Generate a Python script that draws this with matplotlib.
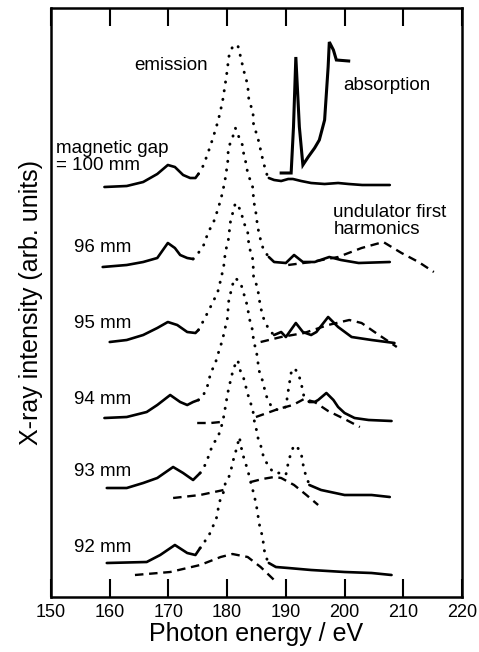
import numpy as np
import matplotlib
matplotlib.use('Agg')
import matplotlib.pyplot as plt

plt.rcParams['font.family'] = ['Liberation Sans', 'DejaVu Sans']

# ---- data (photon energy in eV, intensity in arbitrary stacked units) ----
# magnetic gap = 100 mm
E100 = [159.1, 162.9, 165.7, 168.1, 169.9, 171.1, 172.5, 173.7, 174.6, 175.1,
        176.0, 176.6, 177.2, 178.0, 178.5, 179.2, 179.6, 180.1, 180.2, 180.9, 181.4, 181.8,
        182.3, 182.8, 183.5, 183.7, 184.4, 184.5, 185.2, 185.7, 186.2, 186.9, 187.1,
        188.0, 189.2, 190.4, 191.2, 192.6, 194.3, 196.6, 198.9, 200.7, 203.0, 205.0, 207.7]
I100 = [410, 411, 415, 423, 432, 430, 422, 419, 419, 423,
        432, 442, 452, 467, 477, 495, 510, 530, 539, 550, 552, 552,
        540, 527, 512, 497, 485, 472, 460, 447, 434, 420, 419,
        417, 416, 418, 418, 416, 414, 413, 414, 413, 412, 412, 412]
EMIS100 = (175.1, 187.1)

# absorption spectrum
E_abs = [189.2, 190.9, 191.3, 191.7, 192.3, 192.9, 193.8, 194.9, 195.7, 196.6,
         197.2, 197.4, 198.1, 198.6, 200.7]
I_abs = [424, 424, 470, 540, 470, 432, 440, 449, 457, 477,
         530, 555, 547, 537, 536]

# 96 mm
E96 = [158.8, 162.9, 165.7, 168.1, 169.9, 171.1, 172.0, 173.2, 174.2,
       175.1, 176.0, 176.8, 177.7, 178.5, 179.2, 179.7, 180.1, 180.2, 180.9, 181.4,
       182.0, 182.6, 182.8, 183.2, 183.5, 184.4, 184.5, 184.9, 185.2, 185.7, 186.2, 187.1,
       188.0, 190.0, 191.4, 192.9, 194.9, 197.4, 199.4, 202.4, 207.7]
I96 = [330, 332, 335, 339, 354, 349, 342, 339, 338,
       344, 352, 365, 375, 389, 404, 419, 435, 449, 459, 469,
       460, 452, 444, 434, 424, 409, 397, 384, 370, 357, 347, 340,
       335, 334, 342, 335, 335, 340, 337, 334, 335]
EMIS96 = (174.2, 187.1)
UE96 = [190.4, 194.3, 198.9, 202.9, 206.6, 209.7, 212.6, 215.2]
UI96 = [332, 335, 340, 349, 355, 344, 335, 325]

# 95 mm
E95 = [160.0, 162.9, 165.7, 168.1, 169.9, 171.5, 173.2, 174.6, 175.1,
       175.4, 176.3, 177.5, 178.4, 178.9, 179.4, 179.7, 180.2, 180.6, 181.1, 181.4,
       182.3, 182.8, 183.5, 183.7, 184.0, 184.4, 184.5, 185.2, 185.4, 185.7, 186.1, 186.6,
       187.1, 188.0,
       189.2, 190.0, 191.7, 192.9, 194.3, 195.2, 197.2, 198.9, 201.2, 204.6, 208.5]
I95 = [255, 257, 262, 269, 275, 272, 265, 264, 267,
       270, 280, 294, 305, 317, 330, 345, 357, 377, 387, 394,
       387, 375, 365, 352, 345, 337, 320, 309, 300, 290, 280, 274,
       267, 262,
       265, 260, 274, 265, 262, 265, 280, 270, 260, 257, 254]
EMIS95 = (175.1, 188.0)
UE95 = [185.7, 189.2, 193.1, 197.2, 200.8, 202.9, 205.1, 208.9]
UI95 = [255, 260, 264, 272, 277, 274, 265, 250]

# 94 mm
E94 = [159.1, 162.9, 166.3, 168.1, 170.3, 172.0, 173.2, 174.2, 175.1,
       175.8, 176.6, 177.2, 178.0, 178.5, 179.2, 179.7, 180.1, 180.2, 180.9, 181.4,
       182.3, 182.8, 183.5, 183.7, 184.0, 184.4, 184.5, 184.9, 185.2, 185.4, 186.1, 186.6,
       187.4, 188.3, 189.2, 190.0, 190.5, 190.9, 191.4, 192.1, 192.6, 193.1, 194.0,
       194.9, 195.5, 196.9, 198.1, 198.9, 200.0, 201.7, 204.1, 208.0]
I94 = [179, 180, 185, 192, 202, 195, 192, 195, 197,
       200, 210, 224, 234, 244, 257, 270, 280, 294, 312, 319,
       314, 304, 290, 280, 274, 265, 254, 249, 237, 227, 215, 202,
       192, 187, 189, 190, 210, 224, 229, 224, 214, 200, 195,
       195, 197, 204, 197, 190, 184, 179, 177, 176]
EMIS94 = (175.1, 194.0)
UE94a = [174.9, 177.2, 178.9]
UI94a = [174, 174, 175]
UE94b = [184.9, 188.7, 191.2, 193.1, 194.9, 197.2, 200.0, 202.6]
UI94b = [180, 188, 192, 198, 195, 186, 178, 170]

# 93 mm
E93 = [159.5, 162.9, 165.7, 168.1, 170.8, 172.5, 174.2, 175.4,
       176.0, 176.6, 177.2, 177.7, 178.4, 179.2, 179.4, 179.7, 180.1, 180.6, 181.1, 181.8,
       182.3, 182.8, 183.2, 183.7, 184.4, 184.5, 184.9, 185.2, 185.7, 186.2, 187.1,
       188.0, 189.2, 190.0, 190.5, 191.2, 191.7, 192.6, 193.1, 194.0,
       196.0, 200.0, 204.6, 207.7]
I93 = [109, 109, 114, 119, 130, 124, 117, 124,
       129, 137, 147, 154, 159, 174, 180, 190, 204, 217, 229, 237,
       225, 219, 210, 199, 187, 179, 170, 160, 152, 140, 130,
       124, 124, 122, 137, 149, 152, 144, 127, 112,
       107, 102, 102, 100]
EMIS93 = (175.4, 194.0)
UE93a = [170.8, 175.4, 179.4]
UI93a = [99, 102, 107]
UE93b = [184.0, 186.0, 188.0, 189.2, 191.4, 193.5, 195.5]
UI93b = [115, 118, 120, 119, 112, 102, 92]

# 92 mm
E92 = [159.5, 166.3, 168.6, 171.1, 173.2, 174.6, 175.4,
       176.0, 176.3, 176.8, 177.5, 178.0, 178.4, 178.5, 178.9, 179.4, 179.7, 180.1, 180.6,
       180.9, 181.4, 182.1, 182.3, 182.8, 183.5, 184.0, 184.5, 184.9, 185.2, 185.4, 185.7,
       186.1, 186.2, 186.6, 187.1,
       188.3, 190.4, 194.3, 200.0, 204.6, 208.0]
I92 = [34, 35, 42, 52, 44, 42, 49,
       52, 57, 60, 70, 75, 84, 90, 99, 105, 114, 117, 125,
       134, 144, 160, 152, 140, 127, 115, 104, 94, 84, 75, 67,
       59, 50, 40, 34,
       30, 29, 27, 25, 24, 22]
EMIS92 = (175.4, 187.1)
UE92 = [164.3, 170.3, 175.4, 178.9, 180.9, 183.5, 185.7, 188.0]
UI92 = [22, 25, 32, 40, 43, 40, 30, 17]

xticks = [150, 160, 170, 180, 190, 200, 210, 220]

# ---- figure ----
W, H = 479, 652
fig = plt.figure(figsize=(W / 100, H / 100), dpi=100)
ax = fig.add_axes([51 / W, (H - 597) / H, (462 - 51) / W, (597 - 8) / H])
ax.set_xlim(150, 220)
ax.set_ylim(0, 589)

SOLID = dict(color='black', lw=1.9, solid_joinstyle='round', solid_capstyle='round')
DOT = dict(color='black', lw=2.1, ls=(0, (0.1, 2.9)), dash_capstyle='round')
DASH = dict(color='black', lw=1.7, ls=(0, (3.6, 2.4)), dash_capstyle='butt')


def spectrum(E, I, emis):
    E = np.asarray(E, float)
    I = np.asarray(I, float)
    d0, d1 = emis
    left = E <= d0
    mid = (E >= d0) & (E <= d1)
    right = E >= d1
    ax.plot(E[left], I[left], **SOLID)
    ax.plot(E[mid], I[mid], **DOT)
    ax.plot(E[right], I[right], **SOLID)


spectrum(E100, I100, EMIS100)
spectrum(E96, I96, EMIS96)
spectrum(E95, I95, EMIS95)
spectrum(E94, I94, EMIS94)
spectrum(E93, I93, EMIS93)
spectrum(E92, I92, EMIS92)

ax.plot(E_abs, I_abs, color='black', lw=2.2, solid_joinstyle='miter')

for ue, ui in [(UE96, UI96), (UE95, UI95), (UE94a, UI94a), (UE94b, UI94b),
               (UE93a, UI93a), (UE93b, UI93b), (UE92, UI92)]:
    ax.plot(ue, ui, **DASH)

FS = 13.5
ax.text(170.5, 532, 'emission', fontsize=FS, ha='center', va='center')
ax.text(199.8, 511, 'absorption', fontsize=FS, ha='left', va='center')
ax.text(150.9, 440, 'magnetic gap\n= 100 mm', fontsize=FS, ha='left', va='center',
        linespacing=1.05)
ax.text(198.1, 376, 'undulator first\nharmonics', fontsize=FS, ha='left', va='center',
        linespacing=1.05)
for lab, yv in [('96 mm', 350), ('95 mm', 274), ('94 mm', 197), ('93 mm', 125), ('92 mm', 50)]:
    ax.text(154.0, yv, lab, fontsize=FS, ha='left', va='center')

ax.set_xticks(xticks)
ax.set_xticklabels([str(t) for t in xticks])
ax.set_yticks([])
ax.tick_params(axis='x', direction='in', length=13, width=1.5, top=True,
               labelsize=13, pad=5)
for s in ax.spines.values():
    s.set_linewidth(1.8)

ax.set_xlabel('Photon energy / eV', fontsize=18, labelpad=1)
ax.set_ylabel('X-ray intensity (arb. units)', fontsize=18)
ax.yaxis.set_label_coords(-0.02, 0.5)

fig.savefig('out.png', dpi=100, facecolor='white')
